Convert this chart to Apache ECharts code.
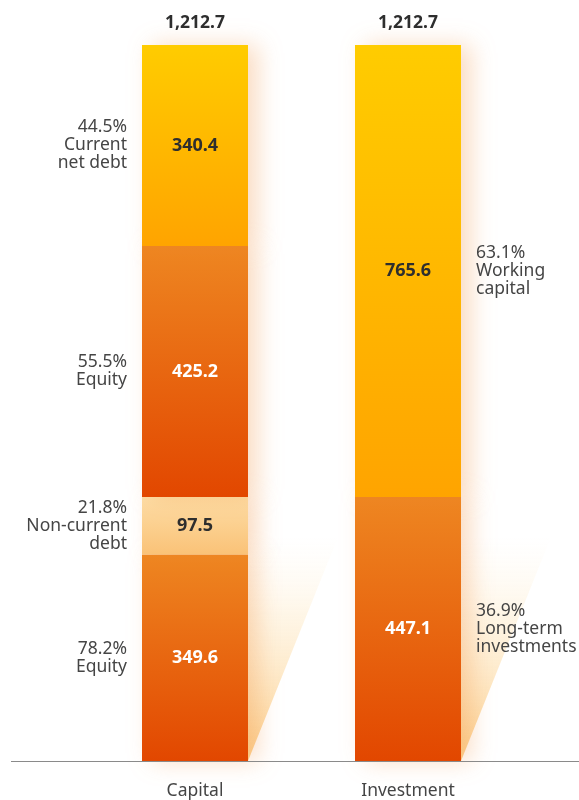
<!DOCTYPE html>
<html>
<head>
<meta charset="utf-8">
<script src="https://cdn.jsdelivr.net/npm/echarts@6/dist/echarts.min.js"></script>
<style>html,body{margin:0;padding:0;background:#fff}#c{width:579px;height:800px}</style>
</head>
<body>
<div id="c"></div>
<script>
const categories = ['Capital', 'Investment'];
const totals = [1212.7, 1212.7];
const seg1 = [349.6, 447.1];
const seg1Names = ['78.2%\nEquity', '36.9%\nLong-term\ninvestments'];
const seg2 = [97.5, 765.6];
const seg2Names = ['21.8%\nNon-current\ndebt', '63.1%\nWorking\ncapital'];
const seg3 = [425.2, null];
const seg3Names = ['55.5%\nEquity', null];
const seg4 = [340.4, null];
const seg4Names = ['44.5%\nCurrent\nnet debt', null];
const seg1Kind = ['orange', 'orange'];
const seg2Kind = ['peach', 'yellow'];
const seg3Kind = ['orange', null];
const seg4Kind = ['yellow', null];

const FONT = '"Noto Sans", "Open Sans", sans-serif';
const G = echarts.graphic.LinearGradient;
const fills = {
  orange: () => new G(0, 0, 0, 1, [{offset: 0, color: '#EE8621'}, {offset: 1, color: '#E24700'}]),
  yellow: () => new G(0, 0, 0, 1, [{offset: 0, color: '#FFCC00'}, {offset: 1, color: '#FFA400'}]),
  peach: () => new G(0, 0, 0, 1, [{offset: 0, color: '#FDDDA6'}, {offset: 1, color: '#FAC277'}])
};
const textColor = {orange: '#ffffff', yellow: '#2e2e2e', peach: '#2e2e2e'};

function mainSeries(vals, kinds) {
  return {
    type: 'bar', stack: 'main', barWidth: 106, barGap: '-100%', z: 3,
    data: vals.map((v, i) => v == null ? '-' : {
      value: v,
      itemStyle: {color: fills[kinds[i]](), shadowColor: 'rgba(238,130,40,0.28)', shadowBlur: 22, shadowOffsetX: 10},
      label: {color: textColor[kinds[i]]}
    }),
    label: {show: true, position: 'inside', fontFamily: FONT, fontWeight: 'bold', fontSize: 18,
      formatter: p => p.value.toFixed(1)}
  };
}
function ghostSeries(vals, names) {
  return {
    type: 'bar', stack: 'ghost', barWidth: 106, barGap: '-100%', z: 4, silent: true,
    itemStyle: {color: 'rgba(0,0,0,0)'},
    data: vals.map((v, i) => v == null ? '-' : {
      value: v,
      label: {position: i === 0 ? 'left' : 'right', align: i === 0 ? 'right' : 'left', formatter: names[i]}
    }),
    label: {show: true, distance: 15, fontFamily: FONT, fontSize: 17.5, lineHeight: 18, color: '#454545', verticalAlign: 'middle'}
  };
}

const chart = echarts.init(document.getElementById('c'), null, {renderer: 'canvas'});
chart.setOption({
  animation: false,
  grid: {left: 88.5, right: 64.5, top: 45, bottom: 39},
  xAxis: {
    type: 'category', data: categories,
    axisLine: {show: false}, axisTick: {show: false},
    axisLabel: {margin: 21, fontFamily: FONT, fontSize: 17.5, color: '#454545'}
  },
  yAxis: {type: 'value', min: 0, max: totals[0], show: false, splitLine: {show: false}},
  graphic: [{
    type: 'line', shape: {x1: 11, y1: 761.5, x2: 579, y2: 761.5},
    style: {stroke: '#8a8a8a', lineWidth: 1}, z: 10
  }],
  series: [
    {
      type: 'custom', z: 1, silent: true,
      data: categories.map((c, i) => i),
      renderItem: function (params, api) {
        const base = api.coord([api.value(0), 0]);
        const top = api.coord([api.value(0), totals[api.value(0)]]);
        const h = (base[1] - top[1]) * 0.313;
        const x0 = base[0] + 53;
        return {
          type: 'polygon',
          shape: {points: [[x0, base[1]], [x0 + 90, base[1] - h], [x0, base[1] - h]]},
          style: {fill: new G(0, 0, 0, 1, [{offset: 0, color: 'rgba(255,248,235,0)'}, {offset: 0.35, color: 'rgba(254,238,210,0.55)'}, {offset: 1, color: 'rgba(252,205,135,0.95)'}])}
        };
      }
    },
    mainSeries(seg1, seg1Kind),
    mainSeries(seg2, seg2Kind),
    mainSeries(seg3, seg3Kind),
    mainSeries(seg4, seg4Kind),
    {
      type: 'bar', stack: 'main', barWidth: 106, barGap: '-100%', z: 5, silent: true,
      data: totals.map(() => 0),
      itemStyle: {color: 'rgba(0,0,0,0)'},
      label: {show: true, position: 'top', distance: 13, fontFamily: FONT, fontWeight: 'bold', fontSize: 17.5, color: '#2e2e2e',
        formatter: p => totals[p.dataIndex].toLocaleString('en-US', {minimumFractionDigits: 1, maximumFractionDigits: 1})}
    },
    ghostSeries(seg1, seg1Names),
    ghostSeries(seg2, seg2Names),
    ghostSeries(seg3, seg3Names),
    ghostSeries(seg4, seg4Names)
  ]
});
</script>
</body>
</html>
